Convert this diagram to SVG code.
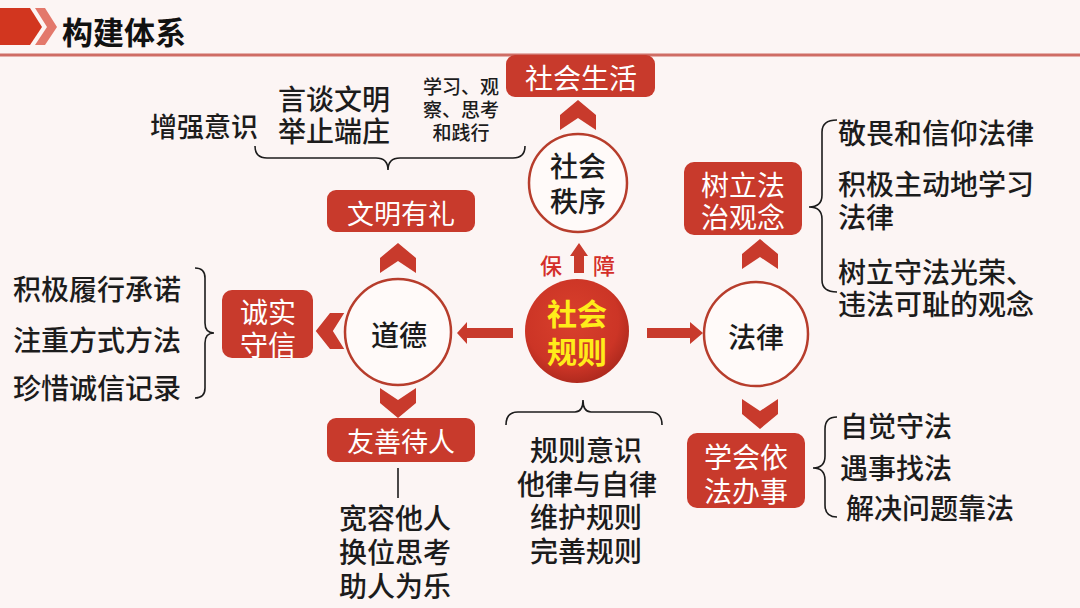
<svg xmlns="http://www.w3.org/2000/svg" width="1080" height="608" viewBox="0 0 1080 608">
<defs>
<style>
text{font-family:"Noto Sans CJK SC","Noto Sans",sans-serif;dominant-baseline:central;}
.t{fill:#1c1c1c;font-size:28px;font-weight:500;}
.tm{text-anchor:middle;}
.box{fill:#c83a2c;}
.bt{fill:#ffffff;font-size:28px;text-anchor:middle;}
.ring{fill:#fffaf9;stroke:#b73d2c;stroke-width:2.5;}
.red{fill:#c83a2c;}
.brace{fill:none;stroke:#1c1c1c;stroke-width:1.6;}
</style>
<path id="chev" d="M0,-15 L18,0 L18,15 L0,3 L-18,15 L-18,0 Z" fill="#c83a2c"/>
<radialGradient id="rg" cx="0.45" cy="0.4" r="0.6">
<stop offset="0" stop-color="#d9402c"/>
<stop offset="0.75" stop-color="#cc3526"/>
<stop offset="1" stop-color="#b02a1e"/>
</radialGradient>
</defs>
<rect width="1080" height="608" fill="#fcf5f4"/>
<g id="header">
<polygon points="0,8 30,8 42,27 30,45 0,45" fill="#d2361f"/>
<polygon points="35,8 45,8 57,27 45,45 35,45 47,27" fill="#e3786b"/>
<rect x="0" y="53.5" width="1080" height="3" fill="#cf6d65"/>
<text x="62" y="30" style="font-size:31px;font-weight:700;fill:#111;">构建体系</text>
</g>
<g id="connectors">
<use href="#chev" transform="translate(578,115)"/>
<use href="#chev" transform="translate(398,258)"/>
<use href="#chev" transform="translate(398,403) rotate(180)"/>
<use href="#chev" transform="translate(330,331) rotate(-90) scale(1,0.95)"/>
<use href="#chev" transform="translate(760,254)"/>
<use href="#chev" transform="translate(760,414) rotate(180)"/>
<polygon points="574,273 574,256 570,256 579,243 588,256 584,256 584,273" class="red"/>
<polygon points="513,328 467,328 467,322 457,333 467,344 467,338 513,338" class="red"/>
<polygon points="647,328 690,328 690,322 703,333 690,344 690,338 647,338" class="red"/>
<path class="brace" d="M255,146 Q255,158 267,158 L376,158 Q388,158 388,170 Q388,158 400,158 L513,158 Q525,158 525,146"/>
<path class="brace" d="M195,268 Q205,268 205,278 L205,323 Q205,333 214,333 Q205,333 205,343 L205,388 Q205,398 195,398"/>
<path class="brace" d="M837,120 Q822,120 822,132 L822,195 Q822,207 809,207 Q822,207 822,219 L822,280 Q822,292 837,292"/>
<path class="brace" d="M837,417 Q825,417 825,429 L825,456 Q825,468 813,468 Q825,468 825,480 L825,505 Q825,517 837,517"/>
<path class="brace" d="M506,425 Q506,412 518,412 L575,412 Q583,412 583,400 Q583,412 591,412 L650,412 Q662,412 662,425"/>
<line x1="398" y1="468" x2="398" y2="498" stroke="#1c1c1c" stroke-width="1.6"/>
</g>
<g id="shehui-shenghuo">
<rect class="box" x="506" y="55" width="149" height="42" rx="9"/>
<text class="bt" x="581" y="77">社会生活</text>
</g>
<g id="shehui-zhixu">
<circle class="ring" cx="578" cy="183" r="49"/>
<text class="t tm"><tspan x="578" y="165">社会</tspan><tspan x="578" y="200">秩序</tspan></text>
</g>
<g id="baozhang">
<text x="551" y="264" style="font-size:22px;fill:#d42f2a;text-anchor:middle;font-weight:500;">保</text>
<text x="604" y="264" style="font-size:22px;fill:#d42f2a;text-anchor:middle;font-weight:500;">障</text>
</g>
<g id="shehui-guize">
<circle cx="577" cy="331" r="52" fill="url(#rg)"/>
<text style="font-size:30px;font-weight:700;fill:#ffec1a;text-anchor:middle;"><tspan x="577" y="312">社会</tspan><tspan x="577" y="350">规则</tspan></text>
</g>
<g id="daode">
<circle class="ring" cx="398" cy="332" r="53"/>
<text class="t tm" x="399" y="334">道德</text>
</g>
<g id="falv">
<circle class="ring" cx="756" cy="334" r="52"/>
<text class="t tm" x="756" y="336">法律</text>
</g>
<g id="wenming">
<rect class="box" x="327" y="190" width="148" height="42" rx="9"/>
<text class="bt" x="401" y="212" style="font-size:27px;">文明有礼</text>
</g>
<g id="wenming-items">
<text class="t tm" x="204" y="125" style="font-size:27px;">增强意识</text>
<text class="t tm"><tspan x="334" y="98">言谈文明</tspan><tspan x="334" y="130">举止端庄</tspan></text>
<text class="t tm" style="font-size:19px;"><tspan x="461" y="85">学习、观</tspan><tspan x="461" y="108">察、思考</tspan><tspan x="461" y="131">和践行</tspan></text>
</g>
<g id="youshan">
<rect class="box" x="327" y="418" width="148" height="44" rx="9"/>
<text class="bt" x="401" y="440" style="font-size:27px;">友善待人</text>
</g>
<g id="youshan-items">
<text class="t tm"><tspan x="395" y="517">宽容他人</tspan><tspan x="395" y="551">换位思考</tspan><tspan x="395" y="585">助人为乐</tspan></text>
</g>
<g id="chengshi">
<rect class="box" x="222" y="290" width="91" height="68" rx="10"/>
<text class="bt"><tspan x="268" y="311">诚实</tspan><tspan x="268" y="344">守信</tspan></text>
</g>
<g id="chengshi-items">
<text class="t" x="13" y="288">积极履行承诺</text>
<text class="t" x="13" y="339">注重方式方法</text>
<text class="t" x="13" y="387">珍惜诚信记录</text>
</g>
<g id="guize-items">
<text class="t tm"><tspan x="586" y="449">规则意识</tspan><tspan x="587" y="483">他律与自律</tspan><tspan x="586" y="516">维护规则</tspan><tspan x="586" y="550">完善规则</tspan></text>
</g>
<g id="fazhi">
<rect class="box" x="684" y="162" width="118" height="73" rx="10"/>
<text class="bt"><tspan x="743" y="184">树立法</tspan><tspan x="743" y="216">治观念</tspan></text>
</g>
<g id="fazhi-items">
<text class="t" x="838" y="132">敬畏和信仰法律</text>
<text class="t"><tspan x="838" y="183">积极主动地学习</tspan><tspan x="838" y="216">法律</tspan></text>
<text class="t"><tspan x="838" y="271">树立守法光荣、</tspan><tspan x="838" y="303">违法可耻的观念</tspan></text>
</g>
<g id="yifa">
<rect class="box" x="687" y="433" width="118" height="75" rx="10"/>
<text class="bt"><tspan x="746" y="456">学会依</tspan><tspan x="746" y="490">法办事</tspan></text>
</g>
<g id="yifa-items">
<text class="t" x="840" y="425">自觉守法</text>
<text class="t" x="840" y="467">遇事找法</text>
<text class="t" x="846" y="507">解决问题靠法</text>
</g>
</svg>
